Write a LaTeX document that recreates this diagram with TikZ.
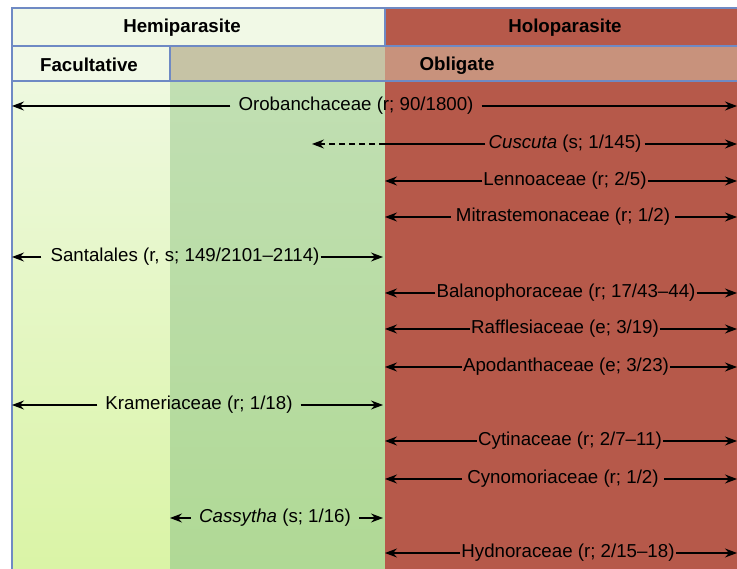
\documentclass[tikz,border=0pt]{standalone}
\usepackage{fontspec}
\setmainfont{Liberation Sans}
\usepackage{xcolor}
\usetikzlibrary{arrows.meta}
\definecolor{holored}{HTML}{B6594A}
\definecolor{hemibg}{HTML}{F1F9E6}
\definecolor{facultop}{HTML}{EEF9DF}
\definecolor{facultbot}{HTML}{DAF4A6}
\definecolor{obligtop}{HTML}{C1DFB3}
\definecolor{obligbot}{HTML}{B0D995}
\definecolor{bandgreen}{HTML}{C6C3A5}
\definecolor{bandred}{HTML}{C8927C}
\definecolor{framblue}{HTML}{6F8AC4}

\begin{document}
\begin{tikzpicture}[
  x=1pt, y=-1pt,
  head/.style={font=\fontsize{18.7}{22}\selectfont\bfseries},
  taxon/.style={font=\fontsize{18.7}{22}\selectfont, inner sep=3pt},
  frame/.style={draw=framblue, line width=2pt},
  arr/.style={-{Stealth[length=12pt, width=9pt, inset=4pt]}, line width=1.1pt},
  darr/.style={arr, dashed, dash pattern=on 6pt off 4pt}
]
  \useasboundingbox (0,0) rectangle (737,569);
  % columns
  \coordinate (xl) at (12,0);
  \coordinate (xm) at (170,0);
  \coordinate (xr) at (385,0);
  \coordinate (xe) at (737,0);
  \shade[top color=facultop, bottom color=facultbot] (12,81) rectangle (170,569);
  \shade[top color=obligtop, bottom color=obligbot] (170,81) rectangle (385,569);
  \fill[holored] (385,81) rectangle (740,569);
  % header rows
  \fill[hemibg] (12,8) rectangle (385,46);
  \fill[holored] (385,8) rectangle (740,46);
  \fill[hemibg] (12,46) rectangle (170,81);
  \fill[bandgreen] (170,46) rectangle (385,81);
  \fill[bandred] (385,46) rectangle (740,81);
  \draw[frame] (740,8) -- (12,8) -- (12,569);
  \draw[frame] (12,46) -- (740,46);
  \draw[frame] (12,81) -- (740,81);
  \draw[frame] (385,8) -- (385,46);
  \draw[frame] (170,46) -- (170,81);
  \node[head] (hemi) at (182,28) {Hemiparasite};
  \node[head] (holo) at (565,28) {Holoparasite};
  \node[head] (facu) at (89,65) {Facultative};
  \node[head] (obli) at (457,65.5) {Obligate};

  % taxa
  \node[taxon, inner xsep=8pt] (oro) at (356,106) {Orobanchaceae (r; 90/1800)};
  \draw[arr] (oro.west) -- (oro.west -| xl);
  \draw[arr] (oro.east) -- (oro.east -| xe);

  \node[taxon] (cus) at (565,144) {\textit{Cuscuta} (s; 1/145)};
  \coordinate (cusend) at (312,144);
  \draw[line width=1.1pt] (cus.west) -- (cus.west -| xr);
  \draw[darr] (cus.west -| xr) -- (cusend);
  \draw[arr] (cus.east) -- (cus.east -| xe);

  \node[taxon, inner xsep=1pt] (len) at (565,181) {Lennoaceae (r; 2/5)};
  \draw[arr] (len.west) -- (len.west -| xr);
  \draw[arr] (len.east) -- (len.east -| xe);

  \node[taxon, inner xsep=5pt] (mit) at (563,217) {Mitrastemonaceae (r; 1/2)};
  \draw[arr] (mit.west) -- (mit.west -| xr);
  \draw[arr] (mit.east) -- (mit.east -| xe);

  \node[taxon, inner xsep=1pt] (san) at (185,257) {Santalales (r, s; 149/2101--2114)};
  \draw[arr] ([xshift=-8pt]san.west) -- (san.west -| xl);
  \draw[arr] (san.east) -- ([xshift=-2pt]san.east -| xr);

  \node[taxon, inner xsep=1pt] (bal) at (566,293) {Balanophoraceae (r; 17/43--44)};
  \draw[arr] (bal.west) -- (bal.west -| xr);
  \draw[arr] (bal.east) -- (bal.east -| xe);

  \node[taxon, inner xsep=1pt] (raf) at (565,329) {Rafflesiaceae (e; 3/19)};
  \draw[arr] (raf.west) -- (raf.west -| xr);
  \draw[arr] (raf.east) -- (raf.east -| xe);

  \node[taxon, inner xsep=1pt] (apo) at (566,367) {Apodanthaceae (e; 3/23)};
  \draw[arr] (apo.west) -- (apo.west -| xr);
  \draw[arr] (apo.east) -- (apo.east -| xe);

  \node[taxon, inner xsep=8pt] (kra) at (199,405) {Krameriaceae (r; 1/18)};
  \draw[arr] (kra.west) -- (kra.west -| xl);
  \draw[arr] (kra.east) -- ([xshift=-2pt]kra.east -| xr);

  \node[taxon, inner xsep=1pt] (cyt) at (570,441) {Cytinaceae (r; 2/7--11)};
  \draw[arr] (cyt.west) -- (cyt.west -| xr);
  \draw[arr] (cyt.east) -- (cyt.east -| xe);

  \node[taxon, inner xsep=5pt] (cyn) at (563,479) {Cynomoriaceae (r; 1/2)};
  \draw[arr] (cyn.west) -- (cyn.west -| xr);
  \draw[arr] (cyn.east) -- (cyn.east -| xe);

  \node[taxon, inner xsep=8pt] (cas) at (275,518) {\textit{Cassytha} (s; 1/16)};
  \draw[arr] (cas.west) -- (cas.west -| xm);
  \draw[arr] (cas.east) -- ([xshift=-2pt]cas.east -| xr);

  \node[taxon, inner xsep=1pt] (hyd) at (568,553) {Hydnoraceae (r; 2/15--18)};
  \draw[arr] (hyd.west) -- (hyd.west -| xr);
  \draw[arr] (hyd.east) -- (hyd.east -| xe);
\end{tikzpicture}
\end{document}
